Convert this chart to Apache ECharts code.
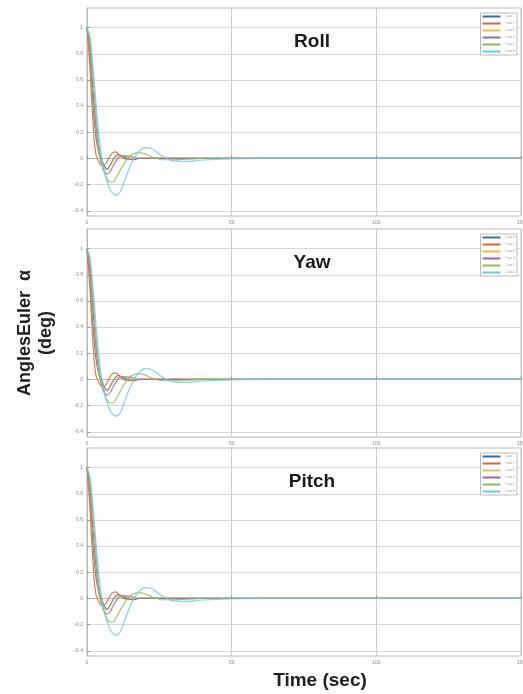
<!DOCTYPE html>
<html>
<head>
<meta charset="utf-8">
<script src="https://cdn.jsdelivr.net/npm/echarts@6/dist/echarts.min.js"></script>
<style>
html,body{margin:0;padding:0;background:#fff;}
#chart{width:523px;height:694px;}
</style>
</head>
<body>
<div id="chart"></div>
<script>
// ---- data ----
var timeSec = [0,1,2,3,4,5,6,7,8,9,10,11,12,14,16,18,20,22,24,26,28,30,35,40,50,60,80,100,150];
var seriesNames = ['Case 1','Case 2','Case 3','Case 4','Case 5','Case 6'];
var case1 = [1,0.78,0.45,0.18,0.05,0.0,-0.06,-0.08,-0.05,-0.01,0.02,0.03,0.02,0.0,-0.01,0,0,0,0,0,0,0,0,0,0,0,0,0,0];
var case2 = [1,0.7,0.3,0.04,-0.02,-0.05,-0.05,-0.02,0.02,0.045,0.05,0.03,0.01,-0.01,0,0,0,0,0,0,0,0,0,0,0,0,0,0,0];
var case3 = [1,0.82,0.52,0.24,0.06,-0.04,-0.08,-0.09,-0.06,-0.02,0.01,0.02,0.02,0.01,0,0,0,0,0,0,0,0,0,0,0,0,0,0,0];
var case4 = [1,0.85,0.56,0.28,0.08,-0.04,-0.1,-0.12,-0.1,-0.06,-0.02,0.01,0.02,0.02,0.01,0,0,0,0,0,0,0,0,0,0,0,0,0,0];
var case5 = [1,0.9,0.65,0.36,0.12,-0.03,-0.11,-0.16,-0.18,-0.18,-0.15,-0.11,-0.07,0.0,0.035,0.045,0.035,0.015,0.0,-0.01,-0.01,-0.01,-0.005,0,0,0,0,0,0];
var case6 = [1,0.93,0.72,0.45,0.2,0.02,-0.1,-0.18,-0.24,-0.27,-0.28,-0.27,-0.23,-0.11,-0.01,0.055,0.083,0.078,0.05,0.018,-0.005,-0.018,-0.022,-0.012,-0.003,0,0,0,0];
var panelTitles = ['Roll','Yaw','Pitch'];
var yTicks = [-0.4,-0.2,0,0.2,0.4,0.6,0.8,1];
var xTicks = [0,50,100,150];

var allCases = [case1,case2,case3,case4,case5,case6];
var colors = ['#3a6f9a','#d9672f','#edc04a','#9a6aa3','#8fbf5a','#6cc8ee'];

var gridTops = [8,229,448];
var gridH = 208;

function pairs(vals){ return timeSec.map(function(t,i){return [t, vals[i]];}); }

var grids=[], xAxes=[], yAxes=[], series=[], titles=[], legends=[];
panelTitles.forEach(function(name, p){
  grids.push({left:87, right:2, top:gridTops[p], height:gridH, show:true, borderColor:'#b8b8b8', borderWidth:1,
    backgroundColor:'#fff', containLabel:false, outerBoundsMode:'none'});
  xAxes.push({type:'value', gridIndex:p, min:0, max:150, interval:50,
    axisLine:{show:true, lineStyle:{color:'#b8b8b8'}},
    axisTick:{show:true, inside:true, length:3, lineStyle:{color:'#999'}},
    axisLabel:{fontSize:5, color:'#888', margin:4},
    splitLine:{show:true, lineStyle:{color:'#cfcfcf', width:1}}
  });
  yAxes.push({type:'value', gridIndex:p, min:-0.44, max:1.15,
    axisLine:{show:true, lineStyle:{color:'#b8b8b8'}},
    axisTick:{show:true, inside:true, length:3, customValues:yTicks, lineStyle:{color:'#999'}},
    axisLabel:{fontSize:5, color:'#888', margin:4, customValues:yTicks},
    splitLine:{show:true, lineStyle:{color:'#d8d8d8', width:1}},
    name: p===1 ? 'AnglesEuler  α\n(deg)' : '', nameLocation:'middle', nameRotate:90, nameGap:30,
    nameTextStyle:{fontFamily:'Liberation Sans', fontWeight:'bold', fontSize:18, color:'#222', lineHeight:21}
  });
  titles.push({text:name, left:307, textAlign:'center', top:gridTops[p]+19,
    textStyle:{fontFamily:'Liberation Sans', fontWeight:'bold', fontSize:19, color:'#1a1a1a'}});
  legends.push({data:seriesNames, orient:'vertical', right:6, top:gridTops[p]+5,
    itemWidth:18, itemHeight:2, itemGap:4, icon:'rect', padding:[2,2,2,2],
    borderColor:'#bbb', borderWidth:1, backgroundColor:'#fff',
    textStyle:{fontSize:3, color:'#999', padding:0}, selectedMode:false});
  allCases.forEach(function(vals, k){
    series.push({type:'line', name:seriesNames[k], xAxisIndex:p, yAxisIndex:p,
      data:pairs(vals), smooth:0.4, showSymbol:false, symbol:'none',
      lineStyle:{width:1.2, color:colors[k], opacity:0.85}, itemStyle:{color:colors[k]}, z:2+k});
  });
});
titles.push({text:'Time (sec)', left:315, textAlign:'center', top:666,
  textStyle:{fontFamily:'Liberation Sans', fontWeight:'bold', fontSize:19, color:'#222'}});

var chart = echarts.init(document.getElementById('chart'), null, {renderer:'canvas'});
chart.setOption({
  animation:false,
  backgroundColor:'#fff',
  title:titles, legend:legends, grid:grids, xAxis:xAxes, yAxis:yAxes, series:series
});
</script>
</body>
</html>
